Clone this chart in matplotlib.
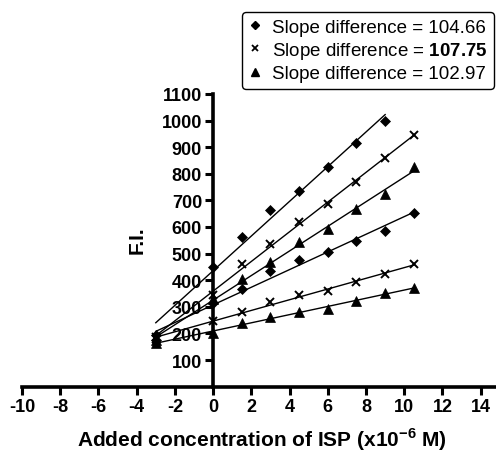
import numpy as np
import matplotlib
matplotlib.use("Agg")
import matplotlib.pyplot as plt
from matplotlib.lines import Line2D

plt.rcParams['font.family'] = ['Liberation Sans', 'DejaVu Sans']
plt.rcParams['axes.unicode_minus'] = False
plt.rcParams['mathtext.fontset'] = 'custom'
plt.rcParams['mathtext.rm'] = 'Liberation Sans'
plt.rcParams['mathtext.bf'] = 'Liberation Sans:bold'

# ---- data ----
x_vals = [-3, 0, 1.5, 3, 4.5, 6, 7.5, 9, 10.5]

diamond_high = [195, 450, 562, 663, 735, 825, 917, 997]          # up to x=9
cross_high = [185, 345, 461, 536, 620, 686, 769, 859, 946]
triangle_high = [175, 330, 404, 470, 543, 592, 667, 723, 825]
diamond_low = [175, 315, 367, 434, 477, 505, 549, 585, 652]
cross_low = [180, 245, 279, 317, 344, 358, 394, 423, 460]
triangle_low = [165, 200, 238, 260, 282, 292, 323, 351, 371]

legend_labels = ["Slope difference = 104.66",
                 "Slope difference = $\\mathbf{107.75}$",
                 "Slope difference = 102.97"]

x_ticks = list(range(-10, 15, 2))
y_ticks = list(range(100, 1101, 100))

series = [
    (diamond_high, 'D', 5.0),
    (cross_high, 'x', 5.5),
    (triangle_high, '^', 6.5),
    (diamond_low, 'D', 5.0),
    (cross_low, 'x', 5.5),
    (triangle_low, '^', 6.5),
]

W, H = 496, 452
fig = plt.figure(figsize=(W / 100, H / 100), dpi=100)
ax = fig.add_axes([22 / W, (H - 387.6) / H, 1 - 22 / W, (387.6 - 95) / H])
ax.set_xlim(-10, 14.8)
ax.set_ylim(0, 1100)

for vals, mk, ms in series:
    xs = np.array(x_vals[:len(vals)])
    ys = np.array(vals)
    mew = 1.4 if mk == 'x' else 0.5
    ax.plot(xs, ys, linestyle='none', marker=mk, markersize=ms,
            color='black', markeredgewidth=mew, clip_on=False, zorder=3)
    k, b = np.polyfit(xs, ys, 1)
    xl = np.array([xs.min(), xs.max()])
    ax.plot(xl, k * xl + b, color='black', linewidth=1.0, zorder=2)

for s in ['top', 'right']:
    ax.spines[s].set_visible(False)
ax.spines['left'].set_position(('data', 0))
ax.spines['left'].set_linewidth(2.6)
ax.spines['bottom'].set_linewidth(2.6)
ax.spines['left'].set_zorder(4)

ax.set_xticks(x_ticks)
ax.set_yticks(y_ticks)
ax.set_xticklabels([str(v) for v in x_ticks])
ax.set_yticklabels([str(v) for v in y_ticks])
ax.tick_params(axis='both', direction='out', length=6, width=2.2,
               labelsize=13, pad=2, colors='black')
for lab in ax.get_xticklabels() + ax.get_yticklabels():
    lab.set_fontweight('bold')

fig.text(137 / W, 1 - 240 / H, 'F.I.', rotation=90, fontsize=15,
         fontweight='bold', ha='center', va='center')
fig.text(261.5 / W, 1 - 440 / H,
         'Added concentration of ISP (x10$^{\\mathbf{-6}}$ M)',
         fontsize=15, fontweight='bold', ha='center', va='center')

handles = [
    Line2D([], [], linestyle='none', marker='D', markersize=4.5, color='black'),
    Line2D([], [], linestyle='none', marker='x', markersize=4.5, color='black', markeredgewidth=1.3),
    Line2D([], [], linestyle='none', marker='^', markersize=5.5, color='black'),
]
leg = fig.legend(handles, legend_labels, loc='upper right',
                 bbox_to_anchor=(494 / W, 1 - 13 / H), borderaxespad=0,
                 fontsize=13.5, frameon=True, fancybox=True, framealpha=1,
                 edgecolor='black', handlelength=0.7, handletextpad=0.55,
                 labelspacing=0.22, borderpad=0.35)
leg.get_frame().set_linewidth(1.0)

# underline the bold number in the second legend entry
fig.canvas.draw()
renderer = fig.canvas.get_renderer()
t = leg.get_texts()[1]
bb = t.get_window_extent(renderer)
tmp = fig.text(0, 0, '107.75', fontsize=13.5, fontweight='bold')
wb = tmp.get_window_extent(renderer).width
tmp.remove()
y_ul = bb.y0 + 1
fig.add_artist(Line2D([(bb.x1 - wb) / W, bb.x1 / W], [y_ul / H, y_ul / H],
                      color='black', linewidth=1.3, transform=fig.transFigure))

fig.savefig('out.png', dpi=100)
